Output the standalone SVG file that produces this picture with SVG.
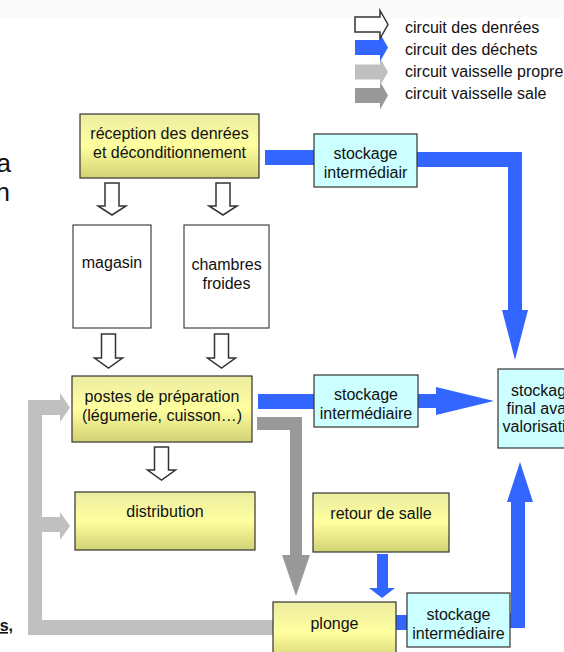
<svg xmlns="http://www.w3.org/2000/svg" width="564" height="652" viewBox="0 0 564 652">
<defs>
<linearGradient id="yel" x1="0" y1="0" x2="0" y2="1">
<stop offset="0" stop-color="#ececa0"/>
<stop offset="0.5" stop-color="#ffffa0"/>
<stop offset="1" stop-color="#d2d276"/>
</linearGradient>
<style>
text{font-family:"Liberation Sans",Arial,sans-serif;font-size:16px;fill:#111;text-anchor:middle}
.y{fill:url(#yel);stroke:#333;stroke-width:1.2}
.c{fill:#ccffff;stroke:#333;stroke-width:1.2}
.w{fill:#fff;stroke:#444;stroke-width:1.2}
.blue{fill:#3366ff}
.lg{fill:#c0c0c0}
.dg{fill:#999999}
.ho{fill:#fff;stroke:#333;stroke-width:1.5}
.leg{text-anchor:start}
</style>
</defs>
<rect x="0" y="0" width="564" height="17" fill="#fafafa"/>

<g id="legend">
<path class="dg" d="M355,88 H380 V81.5 L388,95.5 L380,109.5 V103 H355 Z"/>
<path class="lg" d="M355,64.5 H380 V58 L388,72 L380,86 V79.5 H355 Z"/>
<path class="blue" d="M355,40 H380 V33.5 L388,47.5 L380,61.5 V55 H355 Z"/>
<path class="ho" d="M355,17 H380 V10.5 L388,24.5 L380,38.5 V32 H355 Z"/>
<text class="leg" x="405" y="33">circuit des denrées</text>
<text class="leg" x="405" y="55">circuit des déchets</text>
<text class="leg" x="405" y="77">circuit vaisselle propre</text>
<text class="leg" x="405" y="99">circuit vaisselle sale</text>
</g>

<g id="side-text">
<text x="11" y="172" style="font-size:26px;text-anchor:end">a</text>
<text x="10" y="201" style="font-size:26px;text-anchor:end">n</text>
<text x="13" y="631" style="font-weight:bold;text-anchor:end;text-decoration:underline">s,</text>
</g>

<g id="connectors">
<path class="lg" d="M28,400 H60 V393 L70,407.5 L60,422 V415 H42 V517 H60 V512 L70,526 L60,540 V532 H42 V620 H274 V635 H28 Z"/>
<path class="dg" d="M257,417 H302 V555 H310 L296,596 L282,555 H290 V430 H257 Z"/>
<rect class="blue" x="265" y="150" width="50" height="15"/>
<path class="blue" d="M417,152 H522 V310 H528 L515,360 L502,310 H508 V167 H417 Z"/>
<rect class="blue" x="258" y="394" width="57" height="15"/>
<path class="blue" d="M418,394 H436 V387 L494,401 L436,415 V408 H418 Z"/>
<path class="blue" d="M377,554 H388 V588 H395 L382,598 L369,588 H377 Z"/>
<rect class="blue" x="396" y="615" width="12" height="15"/>
<path class="blue" d="M510,613 H511 V502 H507 L520,462 L533,502 H525 V628 H510 Z"/>
<path class="ho" d="M105,183 H119 V206 H126 L112,215 L98,206 H105 Z"/>
<path class="ho" d="M216,183 H230 V206 H237 L223,215 L209,206 H216 Z"/>
<path class="ho" d="M101.5,334 H115.5 V358 H122.5 L108.5,368 L94.5,358 H101.5 Z"/>
<path class="ho" d="M214.5,334 H228.5 V358 H235.5 L221.5,368 L207.5,358 H214.5 Z"/>
<path class="ho" d="M154.5,447 H168.5 V470 H175.5 L161.5,480 L147.5,470 H154.5 Z"/>
</g>

<g id="reception">
<rect class="y" x="80" y="114" width="179" height="64"/>
<text x="169.5" y="139">réception des denrées</text>
<text x="169.5" y="158">et déconditionnement</text>
</g>
<g id="magasin">
<rect class="w" x="73" y="225" width="78" height="103"/>
<text x="112" y="268">magasin</text>
</g>
<g id="chambres">
<rect class="w" x="184" y="225" width="85" height="103"/>
<text x="226.5" y="270">chambres</text>
<text x="226.5" y="289">froides</text>
</g>
<g id="postes">
<rect class="y" x="72" y="376" width="180" height="66"/>
<text x="162" y="401.5">postes de préparation</text>
<text x="162" y="421">(légumerie, cuisson…)</text>
</g>
<g id="distribution">
<rect class="y" x="75" y="492" width="180" height="58"/>
<text x="165" y="517">distribution</text>
</g>
<g id="stockage1">
<rect class="c" x="314" y="134" width="103" height="53"/>
<text x="365.5" y="158.5">stockage</text>
<text x="365.5" y="178">intermédiair</text>
</g>
<g id="stockage2">
<rect class="c" x="314" y="375" width="104" height="52"/>
<text x="366" y="399.5">stockage</text>
<text x="366" y="418.5">intermédiaire</text>
</g>
<g id="final">
<rect class="c" x="498" y="369" width="92" height="79"/>
<text x="543" y="396">stockage</text>
<text x="543" y="414">final avant</text>
<text x="543" y="432">valorisation</text>
</g>
<g id="retour">
<rect class="y" x="313" y="493" width="136" height="59"/>
<text x="381" y="519">retour de salle</text>
</g>
<g id="plonge">
<rect class="y" x="273" y="602" width="123" height="60"/>
<text x="334.5" y="628.5">plonge</text>
</g>
<g id="stockage3">
<rect class="c" x="407" y="593" width="103" height="54"/>
<text x="458.5" y="620">stockage</text>
<text x="458.5" y="638.5">intermédiaire</text>
</g>
</svg>
